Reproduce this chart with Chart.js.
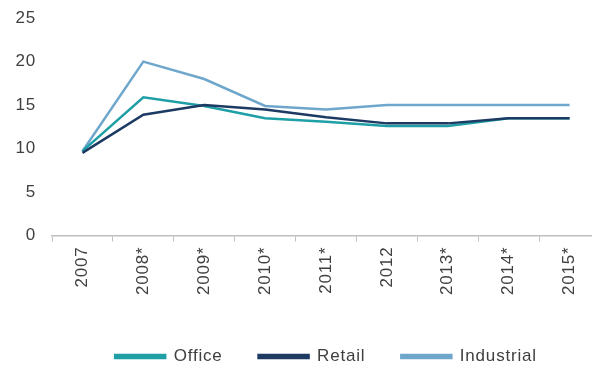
<!DOCTYPE html>
<html>
<head>
<meta charset="utf-8">
<script src="https://cdn.jsdelivr.net/npm/chart.js@4/dist/chart.umd.min.js"></script>
<style>
  html, body { margin: 0; padding: 0; background: #fff; overflow: hidden; }
  #wrap { width: 600px; height: 367px; }
</style>
</head>
<body>
<div id="wrap"><canvas id="c" width="600" height="367"></canvas></div>
<script>
// Years on the category axis (* = forecast)
const years = ['2007', '2008*', '2009*', '2010*', '2011*', '2012', '2013*', '2014*', '2015*'];

// Series values
const office     = [9.7, 15.9, 14.9, 13.5, 13.1, 12.6, 12.6, 13.5, 13.5];
const retail     = [9.5, 13.9, 15.0, 14.5, 13.6, 12.9, 12.9, 13.5, 13.5];
const industrial = [9.7, 20.0, 18.0, 14.9, 14.5, 15.0, 15.0, 15.0, 15.0];

// Value axis ticks
const yTicks = [0, 5, 10, 15, 20, 25];

const FONT = '"Liberation Sans", Arial, sans-serif';
const TEXT = '#404040';

// Slightly tracked-out lettering for all chart text, and a fixed legend band height
const typography = {
  id: 'typography',
  beforeUpdate(chart) {
    chart.ctx.letterSpacing = '0.8px';
    if (chart.legend && !chart.legend._fixedFit) {
      chart.legend._fixedFit = true;
      chart.legend.afterFit = function () { this.height = 60.5; };
    }
  },
  beforeDraw(chart) { chart.ctx.letterSpacing = '0.8px'; }
};

new Chart(document.getElementById('c'), {
  type: 'line',
  data: {
    labels: years,
    datasets: [
      { label: 'Office', data: office, borderColor: '#1e9fa6', backgroundColor: '#1e9fa6', order: 2 },
      { label: 'Retail', data: retail, borderColor: '#1d3a63', backgroundColor: '#1d3a63', order: 1 },
      { label: 'Industrial', data: industrial, borderColor: '#6ea7cb', backgroundColor: '#6ea7cb', order: 3 }
    ].map(d => Object.assign(d, { borderWidth: 2.5, pointRadius: 0, tension: 0, fill: false }))
  },
  plugins: [typography],
  options: {
    responsive: false,
    animation: false,
    layout: { padding: { top: 10.5, left: 0, right: 0, bottom: -8 } },
    plugins: {
      tooltip: { enabled: false },
      legend: {
        position: 'bottom',
        fullSize: false,
        labels: {
          sort: (a, b) => a.datasetIndex - b.datasetIndex,
          boxWidth: 50,
          boxHeight: 3,
          padding: 36,
          color: TEXT,
          font: { family: FONT, size: 17 }
        }
      }
    },
    scales: {
      x: {
        offset: true,
        grid: { display: true, drawOnChartArea: false, drawTicks: true, tickLength: 6, color: '#bfbfbf', offset: true },
        border: { display: true, color: '#bfbfbf', width: 1.5 },
        ticks: {
          minRotation: 90, maxRotation: 90, padding: 5,
          color: TEXT, font: { family: FONT, size: 17 }
        },
        afterFit: s => { s.height = 76.5; }
      },
      y: {
        min: 0, max: 25,
        afterBuildTicks: s => { s.ticks = yTicks.map(v => ({ value: v })); },
        grid: { display: false },
        border: { display: false },
        ticks: { padding: 8, color: TEXT, font: { family: FONT, size: 17 } },
        afterFit: s => { s.width = 52; }
      }
    }
  }
});
</script>
</body>
</html>
